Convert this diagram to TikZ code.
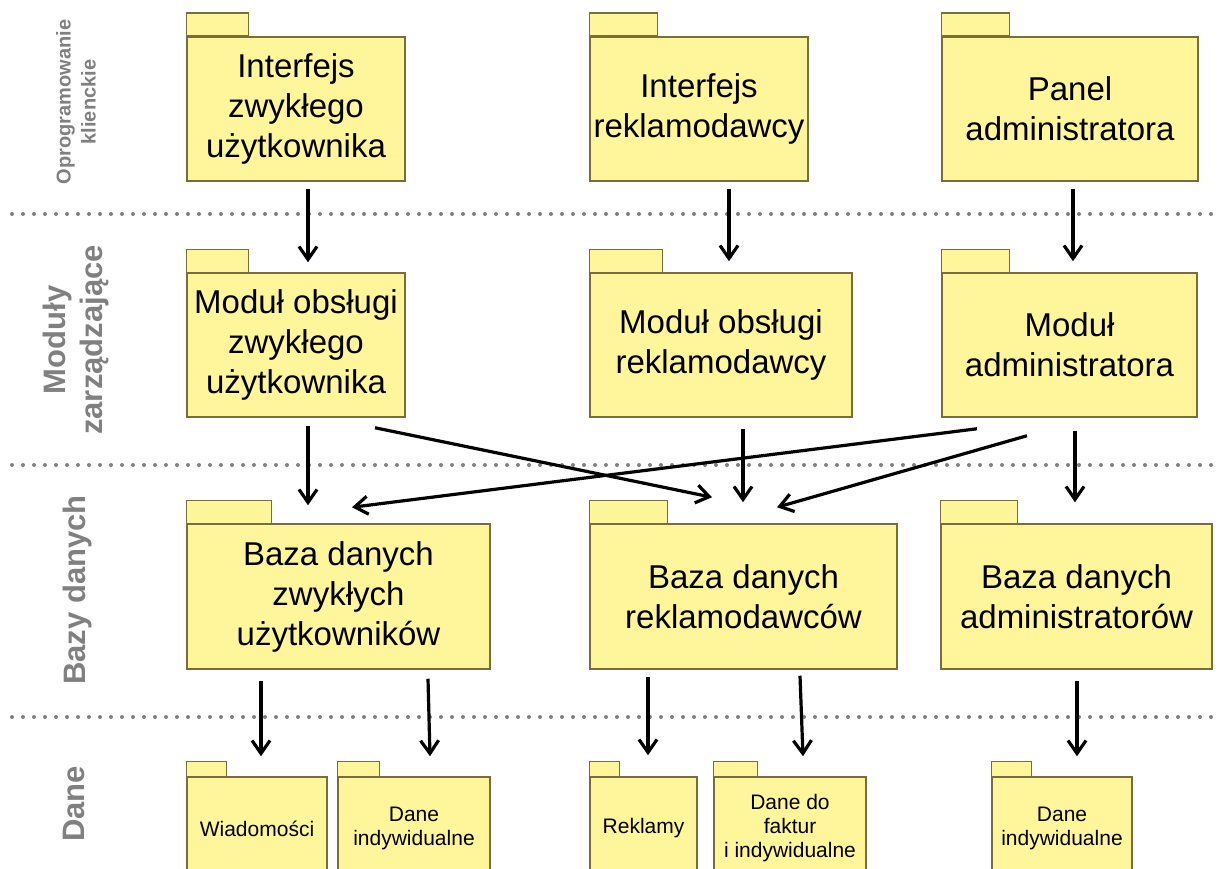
\documentclass[tikz,border=0pt]{standalone}
\usepackage{fontspec}
\setmainfont{Liberation Sans}
\usetikzlibrary{arrows.meta,calc}

\definecolor{pkgfill}{RGB}{255,246,155}
\definecolor{pkgline}{RGB}{120,110,60}
\definecolor{lanegray}{RGB}{128,128,128}

\tikzset{
  pkg/.style={draw=pkgline, fill=pkgfill, line width=1.5pt, inner sep=0pt, align=center, font=\fontsize{33}{40}\selectfont},
  pkgsmall/.style={pkg, font=\fontsize{21}{24}\selectfont},
  tab/.style={draw=pkgline, fill=pkgfill, line width=1.5pt},
  flow/.style={line width=3.2pt, -{Straight Barb[length=13pt,width=18pt]}},
  lane/.style={lanegray, line width=4pt, line cap=round, dash pattern=on 0pt off 11pt},
  lanelabel/.style={text=lanegray, rotate=90, align=center, font=\bfseries\fontsize{31}{37}\selectfont},
}

\begin{document}
\begin{tikzpicture}[x=1pt, y=-1pt]
    \clip (0,0) rectangle (1220,869);

    % layer separators
    \foreach \y in {214,465,717}
        \draw[lane] (12,\y) -- (1220,\y);

    % layer names
    \node[lanelabel, font=\bfseries\fontsize{20}{25}\selectfont] (lclient) at (76,102) {Oprogramowanie\\klienckie};
    \node[lanelabel] (lmod) at (76,340) {Moduły\\zarządzające};
    \node[lanelabel] (ldb) at (77,590) {Bazy danych};
    \node[lanelabel] (ldata) at (74,804) {Dane};

    % client software
    \node[pkg, minimum width=218, minimum height=144] (iuser) at (296,109) {Interfejs\\zwykłego\\użytkownika};
    \node[pkg, minimum width=218, minimum height=144] (iadv) at (699,109) {Interfejs\\reklamodawcy};
    \node[pkg, minimum width=256, minimum height=144] (iadm) at (1070,109) {Panel\\administratora};
    \draw[tab] (iuser.north west) rectangle ++(62,-23);
    \draw[tab] (iadv.north west) rectangle ++(68,-23);
    \draw[tab] (iadm.north west) rectangle ++(68,-23);

    % management modules
    \node[pkg, minimum width=218, minimum height=144] (muser) at (296,345) {Moduł obsługi\\zwykłego\\użytkownika};
    \node[pkg, minimum width=262, minimum height=144] (madv) at (721,345) {Moduł obsługi\\reklamodawcy};
    \node[pkg, minimum width=255, minimum height=144] (madm) at (1069.5,345) {Moduł\\administratora};
    \draw[tab] (muser.north west) rectangle ++(62,-23);
    \draw[tab] (madv.north west) rectangle ++(73,-23);
    \draw[tab] (madm.north west) rectangle ++(68,-23);

    % databases
    \node[pkg, minimum width=303, minimum height=145] (buser) at (338.5,596.5) {Baza danych\\zwykłych\\użytkowników};
    \node[pkg, minimum width=307, minimum height=145] (badv) at (743.5,596.5) {Baza danych\\reklamodawców};
    \node[pkg, minimum width=271, minimum height=145] (badm) at (1076.5,596.5) {Baza danych\\administratorów};
    \draw[tab] (buser.north west) rectangle ++(85,-23);
    \draw[tab] (badv.north west) rectangle ++(78,-23);
    \draw[tab] (badm.north west) rectangle ++(77,-23);

    % data
    \node[pkgsmall, minimum width=140, minimum height=103] (dmsg) at (257,828.5) {Wiadomości};
    \node[pkgsmall, minimum width=152, minimum height=103] (duser) at (414,828.5) {Dane\\indywidualne};
    \node[pkgsmall, minimum width=107, minimum height=103] (dads) at (643.5,828.5) {Reklamy};
    \node[pkgsmall, minimum width=152, minimum height=103] (dinv) at (790,828.5) {Dane do\\faktur\\i indywidualne};
    \node[pkgsmall, minimum width=140, minimum height=103] (dadm) at (1062,828.5) {Dane\\indywidualne};
    \draw[tab] (dmsg.north west) rectangle ++(40,-15);
    \draw[tab] (duser.north west) rectangle ++(42,-15);
    \draw[tab] (dads.north west) rectangle ++(30,-15);
    \draw[tab] (dinv.north west) rectangle ++(44,-15);
    \draw[tab] (dadm.north west) rectangle ++(40,-15);

    % client -> modules
    \draw[flow] ($(iuser.south)+(12,7)$) -- ($(muser.north)+(12,-10)$);
    \draw[flow] ($(iadv.south)+(30,7)$) -- ($(madv.north)+(8,-11)$);
    \draw[flow] ($(iadm.south)+(3,7)$) -- ($(madm.north)+(3.5,-11)$);

    % modules -> databases
    \draw[flow] ($(muser.south)+(12,8)$) -- ($(buser.north)+(-30.5,-18)$);
    \draw[flow] ($(muser.south)+(79,10)$) -- ($(badv.north)+(-31.5,-26)$);
    \draw[flow] ($(madv.south)+(22,11)$) -- ($(badv.north)+(-0.5,-21)$);
    \draw[flow] ($(madm.south)+(-92.5,11)$) -- ($(buser.north)+(13.5,-16)$);
    \draw[flow] ($(madm.south)+(-42.5,18)$) -- ($(badv.north)+(33.5,-16)$);
    \draw[flow] ($(madm.south)+(5.5,13)$) -- ($(badm.north)+(-1.5,-21)$);

    % databases -> data
    \draw[flow] ($(buser.south)+(-77.5,11)$) -- ($(dmsg.north)+(4,-20)$);
    \draw[flow] ($(buser.south)+(89.5,9)$) -- ($(duser.north)+(16,-20)$);
    \draw[flow] ($(badv.south)+(-95.5,7)$) -- ($(dads.north)+(4.5,-21)$);
    \draw[flow] ($(badv.south)+(56.5,6)$) -- ($(dinv.north)+(13,-20)$);
    \draw[flow] ($(badm.south)+(0.5,11)$) -- ($(dadm.north)+(15,-20)$);
\end{tikzpicture}
\end{document}
